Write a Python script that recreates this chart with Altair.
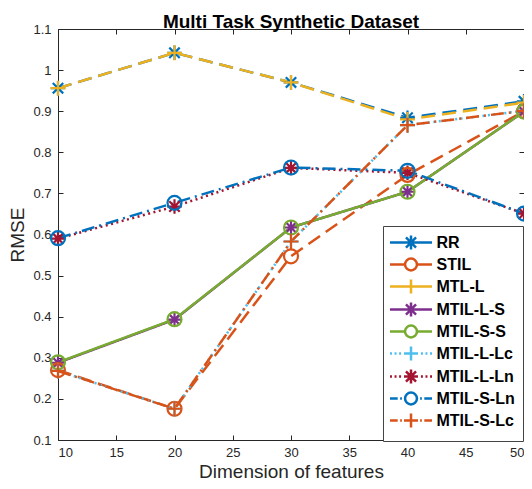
import altair as alt
import pandas as pd

# ---------------- data ----------------
x_vals = [10, 20, 30, 40, 50]
series_names = ["RR", "STIL", "MTL-L", "MTIL-L-S", "MTIL-S-S",
                "MTIL-L-Lc", "MTIL-L-Ln", "MTIL-S-Ln", "MTIL-S-Lc"]
rr        = [0.956, 1.042, 0.970, 0.884, 0.924]
stil      = [0.270, 0.176, 0.547, 0.745, 0.900]
mtl_l     = [0.956, 1.042, 0.970, 0.880, 0.921]
mtil_l_s  = [0.288, 0.393, 0.617, 0.704, 0.899]
mtil_s_s  = [0.289, 0.394, 0.617, 0.704, 0.899]
mtil_l_lc = [0.268, 0.176, 0.583, 0.866, 0.901]
mtil_l_ln = [0.590, 0.668, 0.762, 0.750, 0.651]
mtil_s_ln = [0.591, 0.677, 0.763, 0.755, 0.651]
mtil_s_lc = [0.268, 0.176, 0.583, 0.866, 0.901]
series_values = [rr, stil, mtl_l, mtil_l_s, mtil_s_s,
                 mtil_l_lc, mtil_l_ln, mtil_s_ln, mtil_s_lc]

x_ticks = [10, 15, 20, 25, 30, 35, 40, 45, 50]
y_ticks = [0.1, 0.2, 0.3, 0.4, 0.5, 0.6, 0.7, 0.8, 0.9, 1.0, 1.1]

# ---------------- styles ----------------
colors = ["#0072BD", "#D95319", "#EDB120", "#7E2F8E", "#77AC30",
          "#4DBEEE", "#A2142F", "#0072BD", "#D95319"]
markers = ["star", "circle", "plus", "star", "circle",
           "plus", "star", "circle", "plus"]
line_kinds = ["dash", "dash", "dash", "solid", "solid",
              "dot", "dot", "dashdot", "dashdot"]
dash_patterns = {"dash": [14, 7], "solid": [1, 0], "dot": [2, 3.5],
                 "dashdot": [13, 5, 2, 5]}

FONT = "Liberation Sans"
INK = "#262626"


def star_path(r):
    d = round(r * 0.72, 3)
    return (f"M{-r},0H{r}M0,{-r}V{r}"
            f"M{-d},{-d}L{d},{d}M{-d},{d}L{d},{-d}")


def plus_path(r):
    return f"M{-r},0H{r}M0,{-r}V{r}"


def circle_path(r):
    return f"M{r},0A{r},{r} 0 1,1 {-r},0A{r},{r} 0 1,1 {r},0Z"


# legend symbols: path units scaled x3 so that a small symbolSize
# (14px) still draws a 42px wide sample line
def legend_line(kind, gap):
    if kind == "dot":
        segs = [(-3.0, -2.72), (-2.35, -2.07), (-1.7, -1.42)]
    elif kind == "dashdot":
        segs = [(-3.0, -1.9), (-1.55, -1.3)]
    else:
        segs = [(-3.0, -gap)]
    out = ""
    for a, b in segs:
        out += f"M{a},0H{b}M{-b},0H{-a}"
    return out


def legend_symbol(marker, kind):
    if marker == "star":
        return legend_line(kind, 0.0 if kind in ("dash", "solid") else 1.0) + star_path(1.0)
    if marker == "plus":
        return legend_line(kind, 0.0 if kind in ("dash", "solid") else 1.0) + plus_path(1.0)
    return legend_line(kind, 0.85) + circle_path(0.85)


legend_shapes = [legend_symbol(m, k) for m, k in zip(markers, line_kinds)]

rows = []
for name, vals, mk, kind in zip(series_names, series_values, markers, line_kinds):
    for x, v in zip(x_vals, vals):
        rows.append({"dim": x, "rmse": v, "series": name, "marker": mk, "kind": kind})
df = pd.DataFrame(rows)

color_scale = alt.Scale(domain=series_names, range=colors)
x_scale = alt.Scale(domain=[10, 50], nice=False, zero=False)
y_scale = alt.Scale(domain=[0.1, 1.1], nice=False, zero=False)

base = alt.Chart(df)

LEG_FS = 16

# legend carrier (first layer so its legend settings win); draws no marks
leg = alt.Legend(title=None, labelFontSize=LEG_FS, labelFont=FONT, labelFontWeight="bold")
legend_layer = base.transform_filter("false").mark_point(
    filled=False, strokeWidth=2.5
).encode(
    color=alt.Color("series:N", scale=color_scale, legend=leg),
    shape=alt.Shape("series:N", scale=alt.Scale(domain=series_names, range=legend_shapes),
                    legend=leg),
)


def line_layer(kind, axes):
    if axes:
        xa = alt.Axis(values=x_ticks, orient="bottom", offset=-5, tickSize=5,
                      domain=False, grid=False, tickColor=INK, labelColor=INK,
                      labelFont=FONT, labelFontSize=13, labelPadding=6,
                      title="Dimension of features", titleFont=FONT,
                      titleFontSize=19, titleFontWeight="normal",
                      titleColor=INK, titlePadding=3)
        ya = alt.Axis(values=y_ticks, orient="left", offset=-5, tickSize=5,
                      domain=False, grid=False, format="~g", tickColor=INK,
                      labelColor=INK, labelFont=FONT, labelFontSize=13,
                      labelPadding=7, title="RMSE", titleFont=FONT,
                      titleFontSize=19, titleFontWeight="normal",
                      titleColor=INK, titlePadding=5)
    else:
        xa = None
        ya = None
    return base.transform_filter(alt.datum.kind == kind).mark_line(
        strokeWidth=2.5, strokeDash=dash_patterns[kind]
    ).encode(
        x=alt.X("dim:Q", scale=x_scale, axis=xa),
        y=alt.Y("rmse:Q", scale=y_scale, axis=ya),
        color=alt.Color("series:N", scale=color_scale, legend=None),
        detail="series:N",
    )


def marker_layer(kind, path, size, axes):
    if axes:
        xa = alt.Axis(values=x_ticks, orient="top", offset=-5, tickSize=5, domain=False,
                      grid=False, labels=False, title=None, tickColor=INK)
        ya = alt.Axis(values=y_ticks, orient="right", offset=-5, tickSize=5, domain=False,
                      grid=False, labels=False, title=None, tickColor=INK)
    else:
        xa = None
        ya = None
    return base.transform_filter(alt.datum.marker == kind).mark_point(
        filled=False, strokeWidth=2.2, opacity=1
    ).encode(
        x=alt.X("dim:Q", scale=x_scale, axis=xa),
        y=alt.Y("rmse:Q", scale=y_scale, axis=ya),
        color=alt.Color("series:N", scale=color_scale, legend=None),
        shape=alt.value(path),
        size=alt.value(size),
    )


layers = [
    legend_layer,
    line_layer("dash", True),
    line_layer("solid", False),
    line_layer("dot", False),
    line_layer("dashdot", False),
    marker_layer("star", star_path(1), 210, True),
    marker_layer("circle", circle_path(1), 196, False),
    marker_layer("plus", plus_path(1), 225, False),
]

chart = alt.layer(*layers).resolve_scale(
    x="independent", y="independent"
).resolve_axis(
    x="independent", y="independent"
).properties(
    width=466,
    height=411,
    title=alt.TitleParams("Multi Task Synthetic Dataset", font=FONT, fontSize=19,
                          fontWeight="bold", color="black", anchor="middle",
                          offset=1, dy=10),
    autosize=alt.AutoSizeParams(type="none"),
    padding={"left": 50, "top": 21, "right": 0, "bottom": 41},
).configure_view(
    stroke=INK, strokeWidth=1
).configure_legend(
    orient="none", legendX=325, legendY=197, padding=8,
    strokeColor="#444444", fillColor="white",
    labelFont=FONT, labelFontSize=LEG_FS, labelFontWeight="bold", labelColor="black",
    labelLimit=300, symbolSize=196, symbolStrokeWidth=2.5, symbolOffset=11.5,
    labelOffset=17, rowPadding=-2, symbolFillColor="transparent", symbolOpacity=1,
)

chart.save("out.html", embed_options={"renderer": "svg", "actions": False})
